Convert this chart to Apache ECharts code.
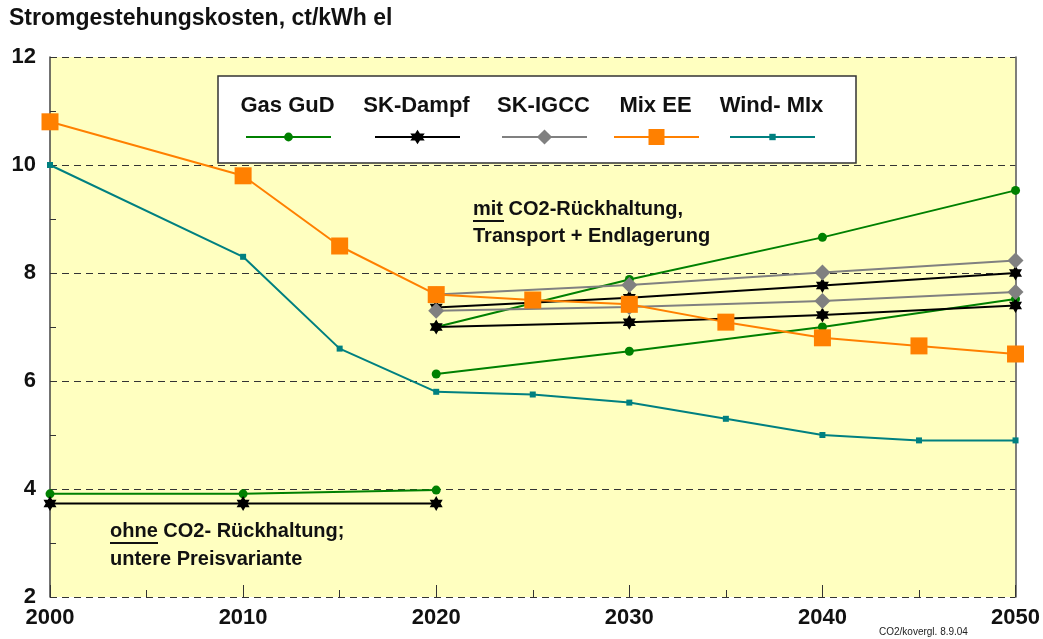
<!DOCTYPE html>
<html>
<head>
<meta charset="utf-8">
<script src="https://cdn.jsdelivr.net/npm/echarts@6/dist/echarts.min.js"></script>
<style>
  html, body { margin: 0; padding: 0; background: #fff; }
  #main { width: 1043px; height: 639px; }
</style>
</head>
<body>
<div id="main"></div>
<script>
// Jahre
var jahreOhne = [2000, 2010, 2020];
var jahreMit = [2020, 2030, 2040, 2050];
var jahreEE = [2000, 2010, 2015, 2020, 2025, 2030, 2035, 2040, 2045, 2050];

// Gas GuD
var gasOhne = [3.91, 3.91, 3.98];
var gasMitHoch = [7.0, 7.88, 8.66, 9.53];
var gasMitNiedrig = [6.13, 6.55, 7.0, 7.52];
// SK-Dampf
var dampfOhne = [3.73, 3.73, 3.73];
var dampfMitHoch = [7.36, 7.54, 7.77, 8.0];
var dampfMitNiedrig = [7.0, 7.09, 7.22, 7.4];
// SK-IGCC
var igccMitHoch = [7.6, 7.78, 8.01, 8.23];
var igccMitNiedrig = [7.3, 7.37, 7.48, 7.65];
// Mix EE / Wind-Mix
var mixEE = [10.8, 9.8, 8.5, 7.6, 7.5, 7.42, 7.09, 6.8, 6.65, 6.5];
var windMix = [10.0, 8.3, 6.6, 5.8, 5.75, 5.6, 5.3, 5.0, 4.9, 4.9];

var yTicks = [2, 4, 6, 8, 10, 12];
var xTicks = [2000, 2010, 2020, 2030, 2040, 2050];

function paare(x, y) {
    var out = [];
    for (var i = 0; i < x.length; i++) out.push([x[i], y[i]]);
    return out;
}

// sechszackiger Stern (als eine Kontur, damit er gefüllt wird)
var stern = 'path://M0,-10L2.887,-5L8.66,-5L5.774,0L8.66,5L2.887,5L0,10L-2.887,5L-8.66,5L-5.774,0L-8.66,-5L-2.887,-5Z';
var FONT = '"Liberation Sans", Arial, sans-serif';

var stil = {
    gas:   { color: '#008000', symbol: 'circle', size: 9 },
    dampf: { color: '#000000', symbol: stern, size: 15 },
    igcc:  { color: '#808080', symbol: 'diamond', size: 16 },
    ee:    { color: '#FF8000', symbol: 'rect', size: 17 },
    wind:  { color: '#008080', symbol: 'rect', size: 6 }
};

function linie(name, s, daten) {
    return {
        name: name,
        type: 'line',
        data: daten,
        symbol: s.symbol,
        symbolSize: s.size,
        symbolKeepAspect: true,
        itemStyle: { color: s.color },
        lineStyle: { color: s.color, width: 2 },
        emphasis: { disabled: true },
        animation: false
    };
}

var chart = echarts.init(document.getElementById('main'));

// Legende: Linien-Icons per Legend-Komponente, Texte darüber
var legPos = [
    { name: 'Gas GuD', left: 245, s: stil.gas, h: 11 },
    { name: 'SK-Dampf', left: 374, s: stil.dampf, h: 18 },
    { name: 'SK-IGCC', left: 501, s: stil.igcc, h: 19 },
    { name: 'Mix EE', left: 613, s: stil.ee, h: 20 },
    { name: 'Wind- MIx', left: 729, s: stil.wind, h: 8 }
];
var legends = legPos.map(function (l) {
    return {
        data: [l.name],
        left: l.left,
        top: 137 - l.h / 2,
        itemWidth: 85,
        itemHeight: l.h,
        itemGap: 0,
        padding: 0,
        formatter: function () { return ''; },
        selectedMode: false,
        z: 6
    };
});

var graphics = [
    { type: 'text', left: 9, top: 7, style: { text: 'Stromgestehungskosten, ct/kWh el', font: 'bold 23px ' + FONT, fill: '#111' } },
    { type: 'rect', shape: { x: 218, y: 76, width: 638, height: 87 }, style: { fill: '#fff', stroke: '#333', lineWidth: 1.5 }, z: 5 }
];
legPos.forEach(function (l) {
    graphics.push({
        type: 'text', z: 6,
        style: { text: l.name, x: l.left + 42.5, y: 106, align: 'center', verticalAlign: 'middle', font: 'bold 22px ' + FONT, fill: '#111' }
    });
});
// Beschriftungen im Diagramm
graphics.push(
    { type: 'text', z: 5, style: { text: 'mit CO2-Rückhaltung,', x: 473, y: 209, verticalAlign: 'middle', font: 'bold 20px ' + FONT, fill: '#111' } },
    { type: 'text', z: 5, style: { text: 'Transport + Endlagerung', x: 473, y: 236, verticalAlign: 'middle', font: 'bold 20px ' + FONT, fill: '#111' } },
    { type: 'rect', z: 5, shape: { x: 473, y: 220, width: 31, height: 2 }, style: { fill: '#111' } },
    { type: 'text', z: 5, style: { text: 'ohne CO2- Rückhaltung;', x: 110, y: 531, verticalAlign: 'middle', font: 'bold 20px ' + FONT, fill: '#111' } },
    { type: 'text', z: 5, style: { text: 'untere Preisvariante', x: 110, y: 559, verticalAlign: 'middle', font: 'bold 20px ' + FONT, fill: '#111' } },
    { type: 'rect', z: 5, shape: { x: 110, y: 542, width: 48, height: 2 }, style: { fill: '#111' } },
    { type: 'text', style: { text: 'CO2/kovergl. 8.9.04', x: 879, y: 632, verticalAlign: 'middle', font: '10px ' + FONT, fill: '#222' } }
);

var option = {
    backgroundColor: '#fff',
    animation: false,
    textStyle: { fontFamily: FONT },
    grid: {
        left: 50, right: 27, top: 57, bottom: 42,
        show: true, backgroundColor: '#FFFFC0', borderWidth: 0
    },
    legend: legends,
    xAxis: {
        type: 'value',
        min: 2000, max: 2050, interval: 10,
        axisLine: { show: false },
        axisTick: { show: true, inside: true, length: 12, lineStyle: { color: '#333' } },
        minorTick: { show: true, splitNumber: 2, length: 7, lineStyle: { color: '#333' } },
        splitLine: { show: false },
        axisLabel: {
            margin: 10,
            fontSize: 22, fontWeight: 'bold', color: '#111',
            formatter: function (v) { return xTicks.indexOf(v) >= 0 ? String(v) : ''; }
        }
    },
    yAxis: [{
        type: 'value',
        min: 2, max: 12, interval: 2,
        axisLine: { show: true, lineStyle: { color: '#444', width: 1.5 } },
        axisTick: { show: true, inside: true, length: 6, lineStyle: { color: '#333' } },
        minorTick: { show: true, splitNumber: 2, length: 6, lineStyle: { color: '#333' } },
        splitLine: { show: true, lineStyle: { color: '#333', type: [7, 5], width: 1 } },
        axisLabel: {
            margin: 14,
            fontSize: 22, fontWeight: 'bold', color: '#111',
            formatter: function (v) { return yTicks.indexOf(v) >= 0 ? String(v) : ''; }
        }
    }, {
        type: 'value', position: 'right',
        min: 2, max: 12, interval: 2,
        axisLine: { show: true, lineStyle: { color: '#555', width: 1.5 } },
        axisTick: { show: false }, axisLabel: { show: false }, splitLine: { show: false }
    }],
    series: [
        linie('Gas GuD', stil.gas, paare(jahreOhne, gasOhne)),
        linie('Gas GuD', stil.gas, paare(jahreMit, gasMitHoch)),
        linie('Gas GuD', stil.gas, paare(jahreMit, gasMitNiedrig)),
        linie('SK-Dampf', stil.dampf, paare(jahreOhne, dampfOhne)),
        linie('SK-Dampf', stil.dampf, paare(jahreMit, dampfMitHoch)),
        linie('SK-Dampf', stil.dampf, paare(jahreMit, dampfMitNiedrig)),
        linie('SK-IGCC', stil.igcc, paare(jahreMit, igccMitHoch)),
        linie('SK-IGCC', stil.igcc, paare(jahreMit, igccMitNiedrig)),
        linie('Mix EE', stil.ee, paare(jahreEE, mixEE)),
        linie('Wind- MIx', stil.wind, paare(jahreEE, windMix))
    ],
    graphic: graphics
};

chart.setOption(option);
</script>
</body>
</html>
